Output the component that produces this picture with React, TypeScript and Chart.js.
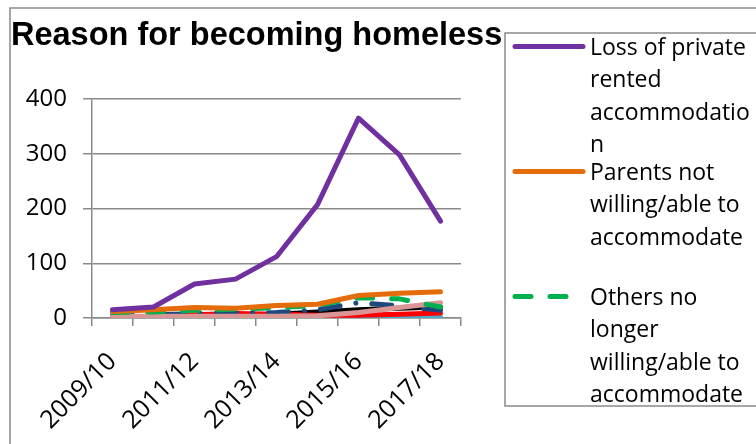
import React, { useEffect, useRef } from "react";
import { Chart, registerables } from "chart.js";

Chart.register(...registerables);

const TITLE = "Reason for becoming homeless";
const CATEGORIES = ["2009/10", "2010/11", "2011/12", "2012/13", "2013/14", "2014/15", "2015/16", "2016/17", "2017/18"];
const Y_TICKS = [0, 100, 200, 300, 400];

const LOSS_PRIVATE_RENTED = [15, 20, 62, 71, 112, 207, 365, 298, 177];
const PARENTS_NOT_WILLING = [12, 15, 19, 18, 23, 25, 41, 45, 48];
const OTHERS_NOT_WILLING = [10, 11, 14, 16, 19, 23, 37, 35, 20];
const DARK_BLUE_SERIES = [5, 6, 8, 9, 10, 15, 28, 22, 14];
const BLACK_SERIES = [2, 2, 3, 5, 7, 11, 15, 18, 20];
const RED_SERIES = [0, 1, 6, 8, 7, 5, 5, 7, 9];
const PINK_SERIES = [3, 3, 3, 3, 3, 4, 10, 19, 28];
const LIGHT_BLUE_SERIES = [1, 1, 1, 1, 1, 0, 1, 2, 2];

const LEGEND_LINES = [
  ["Loss of private", "rented", "accommodatio", "n"],
  ["Parents not", "willing/able to", "accommodate"],
  ["Others no", "longer", "willing/able to", "accommodate"],
];

const GRID = "#8a8a8a";
const Y_FONT = { family: "'Open Sans', sans-serif", size: 24 };
const X_FONT = { family: "'Open Sans', sans-serif", size: 25 };

const decorPlugin = {
  id: "decor",
  beforeDraw(chart: any) {
    const ctx = chart.ctx;
    ctx.save();
    ctx.fillStyle = "#ffffff";
    ctx.fillRect(0, 0, chart.width, chart.height);
    ctx.strokeStyle = GRID;
    ctx.lineWidth = 1.5;
    ctx.beginPath();
    ctx.moveTo(10, chart.height + 10);
    ctx.lineTo(10, 8);
    ctx.lineTo(chart.width + 10, 8);
    ctx.stroke();
    ctx.fillStyle = "#000000";
    ctx.font = "bold 32.5px 'Liberation Sans', Arial, sans-serif";
    ctx.textBaseline = "alphabetic";
    ctx.textAlign = "left";
    ctx.fillText(TITLE, 11, 45);
    ctx.restore();
  },
  afterDraw(chart: any) {
    const ctx = chart.ctx;
    ctx.save();
    ctx.fillStyle = "#ffffff";
    ctx.strokeStyle = GRID;
    ctx.lineWidth = 1.5;
    ctx.fillRect(505, 33, 300, 373);
    ctx.strokeRect(505, 33, 300, 373);
    ctx.font = "23px 'Open Sans', sans-serif";
    ctx.textBaseline = "alphabetic";
    ctx.textAlign = "left";
    LEGEND_LINES.forEach((lines, i) => {
      const ds = chart.data.datasets[i];
      const base = 55 + 125 * i;
      const ly = base - 8.5;
      ctx.strokeStyle = ds.borderColor;
      ctx.lineWidth = ds.borderWidth;
      ctx.lineCap = "round";
      ctx.setLineDash(ds.borderDash || []);
      ctx.beginPath();
      ctx.moveTo(515, ly);
      ctx.lineTo(583, ly);
      ctx.stroke();
      ctx.setLineDash([]);
      ctx.fillStyle = "#000000";
      lines.forEach((t, j) => ctx.fillText(t, 590, base + j * 32.3));
    });
    ctx.restore();
  },
};

function line(label: string, data: number[], color: string, order: number, dash?: number[]) {
  return {
    label,
    data,
    borderColor: color,
    backgroundColor: color,
    borderWidth: 5,
    borderDash: dash,
    borderCapStyle: "round",
    borderJoinStyle: "round",
    pointRadius: 0,
    tension: 0,
    fill: false,
    order,
  };
}

export default function App() {
  const ref = useRef<HTMLCanvasElement | null>(null);
  useEffect(() => {
    if (!ref.current) return;
    const chart = new Chart(ref.current, {
      type: "line",
      data: {
        labels: CATEGORIES,
        datasets: [
          line("Loss of private rented accommodation", LOSS_PRIVATE_RENTED, "#7030A0", 1),
          line("Parents not willing/able to accommodate", PARENTS_NOT_WILLING, "#E46C0A", 2),
          line("Others no longer willing/able to accommodate", OTHERS_NOT_WILLING, "#00B050", 3, [16, 19]),
          line("", DARK_BLUE_SERIES, "#1F497D", 5, [20, 16, 0.01, 16]),
          line("", BLACK_SERIES, "#000000", 7),
          line("", RED_SERIES, "#FF0000", 6),
          line("", PINK_SERIES, "#D99694", 4),
          line("", LIGHT_BLUE_SERIES, "#4BACC6", 8),
        ] as any,
      },
      options: {
        responsive: false,
        animation: false,
        devicePixelRatio: 1,
        layout: { padding: { left: 0, top: 99, right: 756 - 461, bottom: 0 } },
        plugins: { legend: { display: false }, title: { display: false }, tooltip: { enabled: false } },
        scales: {
          x: {
            offset: true,
            grid: { offset: true, drawOnChartArea: false, drawTicks: true, tickLength: 8, color: GRID, lineWidth: 1.5 },
            border: { display: true, color: GRID, width: 1.5 },
            ticks: {
              autoSkip: false,
              minRotation: 45,
              maxRotation: 45,
              padding: 21,
              labelOffset: 0,
              color: "#000000",
              font: X_FONT,
              callback: (_v: any, i: number) => (i % 2 === 0 ? CATEGORIES[i] : ""),
            },
            afterFit: (s: any) => {
              s.height = 444 - 318;
            },
          },
          y: {
            min: 0,
            max: 400,
            grid: { color: GRID, lineWidth: 1.5, tickLength: 9 },
            border: { display: true, color: GRID, width: 1.5 },
            ticks: { padding: 16, color: "#000000", font: Y_FONT },
            afterBuildTicks: (s: any) => {
              s.ticks = Y_TICKS.map((v) => ({ value: v }));
            },
            afterFit: (s: any) => {
              s.width = 92;
            },
          },
        },
      } as any,
      plugins: [decorPlugin],
    });
    return () => chart.destroy();
  }, []);
  return (
    <div style={{ position: "absolute", left: 0, top: 0, width: 756, height: 444 }}>
      <canvas ref={ref} width={756} height={444} style={{ display: "block" }} />
    </div>
  );
}
